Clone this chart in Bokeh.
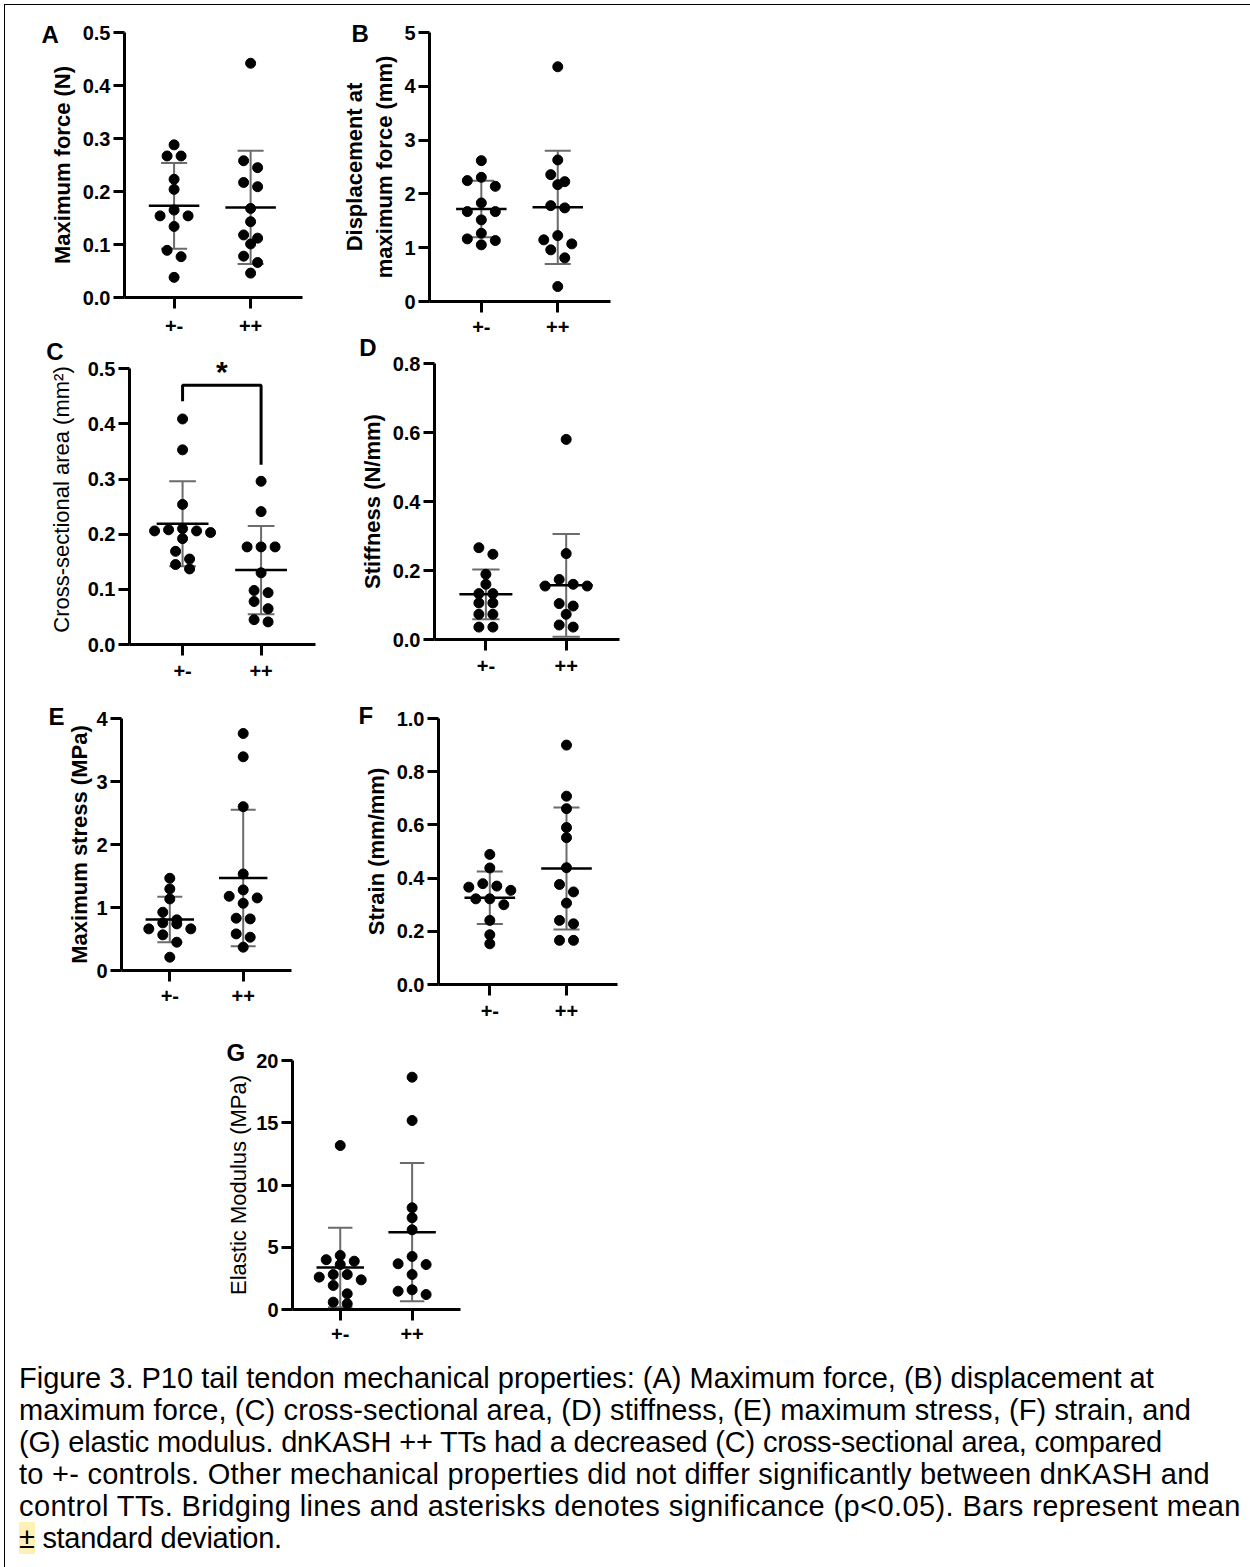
from bokeh.plotting import figure
from bokeh.layouts import column, row
from bokeh.models import FixedTicker, Label, Spacer, Div, Range1d
from bokeh.embed import file_html
from bokeh.resources import INLINE

GROUPS = ["+-", "++"]

# ---------------- data ----------------
A_het = [0.288, 0.267, 0.267, 0.223, 0.204, 0.165, 0.154, 0.154, 0.134, 0.089, 0.077, 0.038]
A_hom = [0.442, 0.258, 0.245, 0.217, 0.209, 0.168, 0.143, 0.118, 0.112, 0.101, 0.078, 0.066, 0.046]
A_mean = [0.173, 0.170]
A_sd = [0.081, 0.107]
A_ticks = [0.0, 0.1, 0.2, 0.3, 0.4, 0.5]
A_ticklabels = ["0.0", "0.1", "0.2", "0.3", "0.4", "0.5"]

B_het = [2.618, 2.308, 2.247, 2.141, 1.832, 1.671, 1.671, 1.517, 1.268, 1.164, 1.133, 1.053]
B_hom = [4.363, 2.631, 2.358, 2.228, 2.172, 1.782, 1.740, 1.225, 1.146, 1.071, 0.960, 0.811, 0.278]
B_mean = [1.720, 1.751]
B_sd = [0.525, 1.052]
B_ticks = [0, 1, 2, 3, 4, 5]
B_ticklabels = ["0", "1", "2", "3", "4", "5"]

C_het = [0.409, 0.353, 0.254, 0.210, 0.208, 0.206, 0.206, 0.203, 0.192, 0.169, 0.155, 0.145, 0.137]
C_hom = [0.296, 0.241, 0.177, 0.177, 0.177, 0.130, 0.098, 0.094, 0.078, 0.065, 0.045, 0.041]
C_mean = [0.219, 0.135]
C_sd = [0.077, 0.080]
C_ticks = [0.0, 0.1, 0.2, 0.3, 0.4, 0.5]
C_ticklabels = ["0.0", "0.1", "0.2", "0.3", "0.4", "0.5"]
C_bracket = [0.441, 0.470, 0.326]   # left leg end, bar level, right leg end
C_star = "*"

D_het = [0.266, 0.247, 0.189, 0.160, 0.133, 0.133, 0.106, 0.106, 0.073, 0.073, 0.036, 0.036]
D_hom = [0.580, 0.249, 0.174, 0.160, 0.155, 0.155, 0.104, 0.097, 0.073, 0.042, 0.036]
D_mean = [0.131, 0.157]
D_sd = [0.072, 0.149]
D_ticks = [0.0, 0.2, 0.4, 0.6, 0.8]
D_ticklabels = ["0.0", "0.2", "0.4", "0.6", "0.8"]

E_het = [1.464, 1.295, 1.136, 0.925, 0.804, 0.756, 0.740, 0.661, 0.661, 0.566, 0.449, 0.211]
E_hom = [3.762, 3.392, 2.600, 1.532, 1.279, 1.178, 1.152, 1.067, 0.830, 0.819, 0.581, 0.528, 0.370]
E_mean = [0.810, 1.469]
E_sd = [0.360, 1.083]
E_ticks = [0, 1, 2, 3, 4]
E_ticklabels = ["0", "1", "2", "3", "4"]

F_het = [0.489, 0.438, 0.379, 0.370, 0.366, 0.354, 0.322, 0.322, 0.300, 0.241, 0.187, 0.153]
F_hom = [0.900, 0.708, 0.661, 0.590, 0.552, 0.439, 0.376, 0.348, 0.306, 0.241, 0.228, 0.166, 0.166]
F_mean = [0.326, 0.436]
F_sd = [0.099, 0.229]
F_ticks = [0.0, 0.2, 0.4, 0.6, 0.8, 1.0]
F_ticklabels = ["0.0", "0.2", "0.4", "0.6", "0.8", "1.0"]

G_het = [13.17, 4.34, 4.00, 3.88, 3.61, 2.81, 2.81, 2.60, 2.38, 1.93, 1.26, 0.59, 0.46]
G_hom = [18.66, 15.18, 8.17, 7.37, 6.40, 4.26, 3.67, 3.61, 2.81, 1.58, 1.47, 1.20]
G_mean = [3.38, 6.21]
G_sd = [3.19, 5.55]
G_ticks = [0, 5, 10, 15, 20]
G_ticklabels = ["0", "5", "10", "15", "20"]

CAPTION_LINES = [
    "Figure 3. P10 tail tendon mechanical properties: (A) Maximum force, (B) displacement at",
    "maximum force, (C) cross-sectional area, (D) stiffness, (E) maximum stress, (F) strain, and",
    "(G) elastic modulus. dnKASH ++ TTs had a decreased (C) cross-sectional area, compared",
    "to +- controls. Other mechanical properties did not differ significantly between dnKASH and",
    "control TTs. Bridging lines and asterisks denotes significance (p&lt;0.05). Bars represent mean",
    "<span style='background:#fff0b3'>\u00b1</span> standard deviation.",
]

# ---------------- layout / style ----------------
FONT = "Liberation Sans"
DOT = 10
LETTER_PX = 24
LETTER_ADV = {"A": 0.722, "B": 0.722, "C": 0.722, "D": 0.722, "E": 0.667, "F": 0.611, "G": 0.778}
ORIGIN = (5, 5)   # page position of the layout's content box
CAPTION_SPACING = [0.0, 0.1, -0.18, 0.26, 0.4, -0.3]   # per-line letter spacing (px)


def swarm(vals, ppu_y, ppu_x, bin_px=9.0, step_px=14.0):
    order = sorted(range(len(vals)), key=lambda i: -vals[i])
    offs = [0.0] * len(vals)
    i = 0
    while i < len(order):
        top = vals[order[i]] * ppu_y
        members = []
        j = i
        while j < len(order) and top - vals[order[j]] * ppu_y < bin_px:
            members.append(order[j])
            j += 1
        n = len(members)
        slots = [(k - (n - 1) / 2.0) * step_px for k in range(n)]
        slots.sort(key=lambda s: (abs(s), s))
        for m, s in zip(members, slots):
            offs[m] = s / ppu_x
        i = j
    return offs


def panel(fig_box, axes_box, frame_top, xr, het, hom, mean, sd, ticks, ticklabels,
          ylabel, bold_label, letter, letter_pos, label_standoff, xlabel_standoff):
    fx, fy, W, H = fig_box
    al, at, aw, ab = axes_box
    ymax = ticks[-1]
    left = int(round(al - fx))
    fw = int(round(aw))
    right = W - left - fw
    top = int(round(frame_top - fy))
    fh = int(round(ab - frame_top))
    bottom = H - top - fh
    yend = ymax * (ab - frame_top) / (ab - at)
    p = figure(width=W, height=H, x_range=Range1d(xr[0], xr[1]),
               y_range=Range1d(0, yend), output_backend="svg",
               toolbar_location=None, min_border_left=left,
               min_border_right=right, min_border_top=top,
               min_border_bottom=bottom)
    if "frame_align" in p.properties():
        p.frame_align = False
    p.outline_line_color = None
    p.grid.visible = False
    p.background_fill_color = "white"
    p.border_fill_color = "white"

    for ax in (p.xaxis[0], p.yaxis[0]):
        ax.axis_line_width = 3
        ax.axis_line_color = "black"
        ax.major_tick_line_width = 3
        ax.major_tick_line_color = "black"
        ax.major_tick_out = 11
        ax.major_tick_in = 0
        ax.minor_tick_line_color = None
        ax.major_label_text_font = FONT
        ax.major_label_text_font_style = "bold"
        ax.major_label_text_font_size = "20px"
        ax.major_label_text_color = "black"

    p.xaxis.ticker = FixedTicker(ticks=[1, 2])
    p.xaxis.major_label_overrides = {1: GROUPS[0], 2: GROUPS[1]}
    p.xaxis.major_label_standoff = xlabel_standoff

    p.yaxis.bounds = (0, ymax)
    p.yaxis.ticker = FixedTicker(ticks=ticks)
    p.yaxis.major_label_overrides = {t: l for t, l in zip(ticks, ticklabels)}
    p.yaxis.major_label_standoff = 3
    p.yaxis.axis_label = ylabel
    p.yaxis.axis_label_text_font = FONT
    p.yaxis.axis_label_text_font_size = "22px"
    p.yaxis.axis_label_text_font_style = "bold" if bold_label else "normal"
    p.yaxis.axis_label_text_color = "black"
    p.yaxis.axis_label_standoff = label_standoff

    ppu_y = fh / yend
    ppu_x = fw / (xr[1] - xr[0])
    cats = [1, 2]

    # SD error bars (gray)
    lo = [m - s for m, s in zip(mean, sd)]
    hi = [m + s for m, s in zip(mean, sd)]
    cap = 0.17
    p.segment(x0=cats, y0=lo, x1=cats, y1=hi, line_color="#6b6b6b", line_width=2)
    p.segment(x0=[c - cap for c in cats] * 2, y0=lo + hi,
              x1=[c + cap for c in cats] * 2, y1=lo + hi,
              line_color="#6b6b6b", line_width=2)

    # points
    for c, vals in zip(cats, (het, hom)):
        offs = swarm(vals, ppu_y, ppu_x)
        p.scatter(x=[c + o for o in offs], y=vals, size=DOT,
                  fill_color="black", line_color="black")

    # mean line
    mw = 0.33
    p.segment(x0=[c - mw for c in cats], y0=mean, x1=[c + mw for c in cats],
              y1=mean, line_color="black", line_width=2.5)

    t = p.title
    t.text = ""
    if letter_pos is not None:
        # panel letter as the plot title (kept outside the frame clip)
        lx, ly = letter_pos
        t.text = letter
        t.align = "left"
        t.vertical_align = "bottom"
        t.offset = (lx - LETTER_ADV[letter] * LETTER_PX / 2.0) - al
        t.standoff = 2.0 * (frame_top - 0.573 * LETTER_PX - ly)
        t.text_font = FONT
        t.text_font_size = "%dpx" % LETTER_PX
        t.text_font_style = "bold"
        t.text_color = "black"
    return p


def letter_div(letter, center):
    # letter placed in the page layer where two canvases meet
    cx, cy = center
    left = cx - LETTER_ADV[letter] * LETTER_PX / 2.0 - ORIGIN[0]
    top = cy - 11.7 - ORIGIN[1]
    html = ("<span style=\"font-family:'Liberation Sans',Arial,sans-serif;font-size:%dpx;"
            "font-weight:bold;line-height:%dpx;color:#000;\">%s</span>" % (LETTER_PX, LETTER_PX, letter))
    return Div(text=html, width=30, height=LETTER_PX + 2,
               styles={"position": "absolute", "left": "%.1fpx" % left, "top": "%.1fpx" % top,
                       "margin": "0", "padding": "0"})


# left column: A, C, E  (page x 5..316);  right column: B, D, F (316..626)
pA = panel((5, 5, 311, 338), (124.3, 31.7, 178.4, 296.7), 31.7, (0.352, 2.678),
           A_het, A_hom, A_mean, A_sd, A_ticks, A_ticklabels,
           "Maximum force (N)", True, "A", (50, 33), 5, 10)
pC = panel((5, 343, 311, 347), (129.3, 368.3, 185.7, 644), 354, (0.324, 2.693),
           C_het, C_hom, C_mean, C_sd, C_ticks, C_ticklabels,
           "Cross-sectional area (mm\u00b2)", False, "C", None, 11, 8)
pE = panel((5, 690, 311, 340), (121, 717.7, 170, 970), 717.7, (0.342, 2.658),
           E_het, E_hom, E_mean, E_sd, E_ticks, E_ticklabels,
           "Maximum stress (MPa)", True, "E", (56, 715), 1, 7)

pB = panel((316, 5, 310, 339), (429.3, 31.7, 180.7, 301), 31.7, (0.322, 2.69),
           B_het, B_hom, B_mean, B_sd, B_ticks, B_ticklabels,
           "Displacement at\nmaximum force (mm)", True, "B", (360, 32), 4, 7)
pD = panel((316, 344, 310, 340), (434.3, 362.7, 185, 638.3), 362.7, (0.36, 2.664),
           D_het, D_hom, D_mean, D_sd, D_ticks, D_ticklabels,
           "Stiffness (N/mm)", True, "D", None, 5, 8)
pF = panel((316, 684, 310, 346), (437.7, 718.3, 179, 984), 718.3, (0.331, 2.665),
           F_het, F_hom, F_mean, F_sd, F_ticks, F_ticklabels,
           "Strain (mm/mm)", True, "F", (365, 715), 5, 8)

pG = panel((178, 1030, 292, 322), (291.7, 1060, 167.6, 1309), 1060, (0.336, 2.673),
           G_het, G_hom, G_mean, G_sd, G_ticks, G_ticklabels,
           "Elastic Modulus (MPa)", False, "G", (235, 1052), 2, 6)

# significance bracket in C
pC.line(x=[1, 1, 2, 2], y=[C_bracket[0], C_bracket[1], C_bracket[1], C_bracket[2]],
        line_color="black", line_width=3)
pC.add_layout(Label(x=1.5, y=C_bracket[1], y_offset=14, text=C_star, text_font=FONT,
                    text_font_style="bold", text_font_size="30px", text_align="center",
                    text_baseline="alphabetic", text_color="black"))

caption_body = "<br>".join(
    "<span style='letter-spacing:%.2fpx'>%s</span>" % (sp, line)
    for sp, line in zip(CAPTION_SPACING, CAPTION_LINES))
caption_html = ("<div style=\"font-family:'Liberation Sans',Arial,sans-serif;"
                "font-size:29px;line-height:32px;white-space:nowrap;color:#000;"
                "padding-left:9px;padding-top:5px;\">" + caption_body + "</div>")
caption = Div(text=caption_html, width=1242, height=209)

layout = column(
    row(column(pA, pC, pE), column(pB, pD, pF)),
    row(Spacer(width=173, height=322), pG),
    caption,
    letter_div("C", (55, 352)),
    letter_div("D", (368, 348)),
    styles={"border": "1px solid black", "margin-left": "4px", "margin-top": "4px",
            "position": "relative"},
)

open("out.html", "w").write(file_html(layout, INLINE))
